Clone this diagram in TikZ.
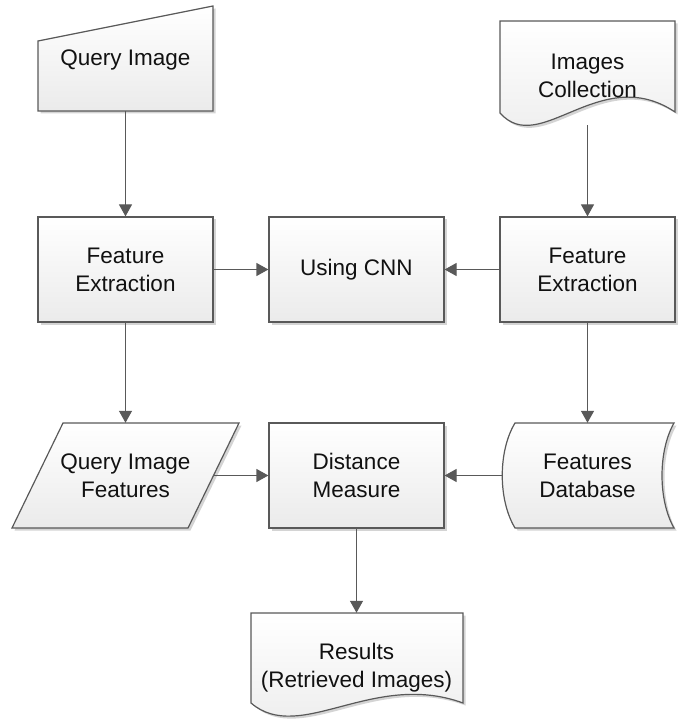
\documentclass[tikz,border=0pt]{standalone}
\usepackage{fontspec}
\setmainfont{Liberation Sans}
\usetikzlibrary{arrows.meta,shadows}
\definecolor{edge}{HTML}{595959}
\definecolor{ink}{HTML}{111111}
\tikzset{
  flowfill/.style={top color=white, bottom color=black!8, draw=edge, line width=1.2pt,
    drop shadow={shadow xshift=2.5pt, shadow yshift=-2.5pt, opacity=0.28, fill=black!60}},
  txt/.style={inner sep=0pt, align=center, text=ink, font=\fontsize{22.5}{28}\selectfont},
  box/.style={flowfill, txt, minimum width=175pt, minimum height=105pt},
  flow/.style={draw=edge, line width=1.2pt, -{Triangle[length=12pt,width=13pt]}}
}
\begin{document}
\begin{tikzpicture}[x=1pt, y=-1pt]
\useasboundingbox (0,0) rectangle (688,719);

% outlines of the non-rectangular flowchart symbols
\path[flowfill] (38,41) -- (213,6) -- (213,111) -- (38,111) -- cycle;               % manual input
\path[flowfill] (500,21) -- (675,21) -- (675,112)
   .. controls (600,62) and (540,158) .. (500,113) -- cycle;                          % document
\path[flowfill] (63,423) -- (239,423) -- (188,528) -- (12,528) -- cycle;            % data (parallelogram)
\path[flowfill] (515,423) -- (674,423) .. controls (658,451) and (658,500) .. (674,528)
   -- (515,528) .. controls (498,500) and (498,451) .. (515,423) -- cycle;            % stored data
\path[flowfill] (251,613) -- (463,613) -- (463,703)
   .. controls (373,670) and (300,745) .. (251,703) -- cycle;                         % document

% labels of those symbols
\node[txt, minimum width=175pt, minimum height=102pt] (qi)  at (125.5,60)  {Query Image};
\node[txt, minimum width=175pt, minimum height=99pt]  (ic)  at (587.5,75.5) {Images\\Collection};
\node[txt, minimum width=176pt, minimum height=105pt] (qif) at (125.5,475.5) {Query Image\\Features};
\node[txt, minimum width=171pt, minimum height=105pt] (fdb) at (587.5,475.5) {Features\\Database};
\node[txt, minimum width=212pt, minimum height=110pt] (res) at (356.5,668) {Results\\(Retrieved Images)};

% process boxes
\node[box] (fe1) at (125.5,269.5) {Feature\\Extraction};
\node[box] (cnn) at (356.5,269.5) {Using CNN};
\node[box] (fe2) at (587.5,269.5) {Feature\\Extraction};
\node[box] (dm)  at (356.5,475.5) {Distance\\Measure};

% connectors
\draw[flow] (qi.south)  -- (fe1.north);
\draw[flow] (ic.south)  -- (fe2.north);
\draw[flow] (fe1.east)  -- (cnn.west);
\draw[flow] (fe2.west)  -- (cnn.east);
\draw[flow] (fe1.south) -- (qif.north);
\draw[flow] (fe2.south) -- (fdb.north);
\draw[flow] (qif.east)  -- (dm.west);
\draw[flow] (fdb.west)  -- (dm.east);
\draw[flow] (dm.south)  -- (res.north);
\end{tikzpicture}
\end{document}
